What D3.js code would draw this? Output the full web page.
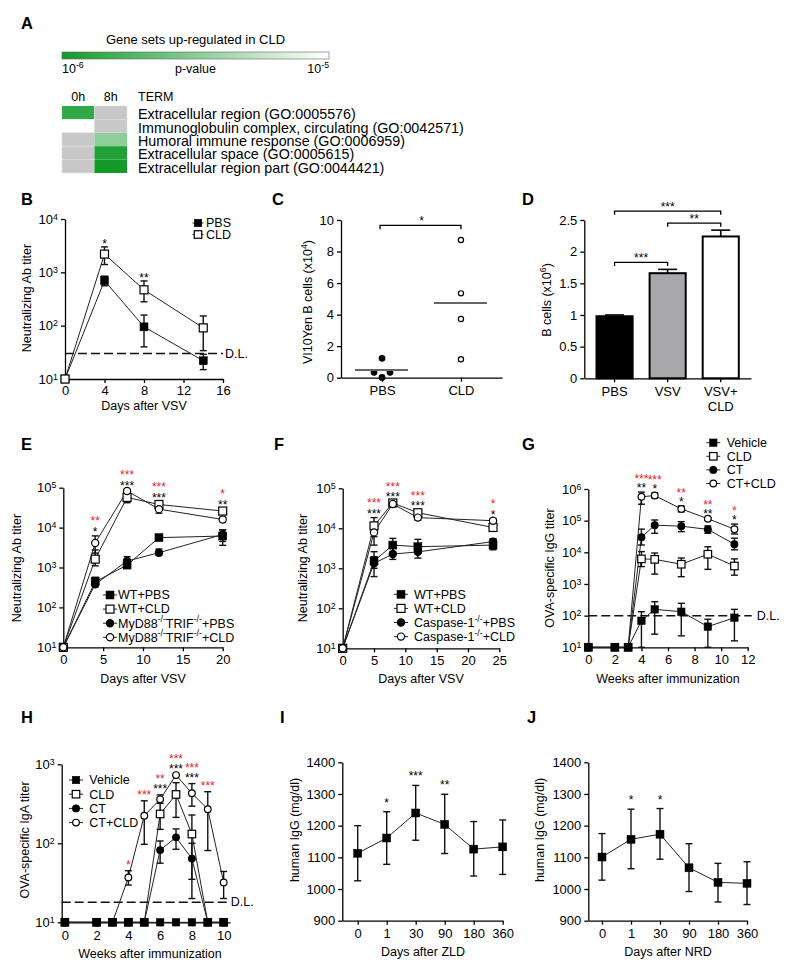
<!DOCTYPE html>
<html><head><meta charset="utf-8">
<script src="https://cdn.jsdelivr.net/npm/d3@7"></script>
<style>
body{margin:0;background:#fff;}
svg{display:block;font-family:"Liberation Sans",Arial,Helvetica,sans-serif;}
</style></head><body>
<svg id="fig" width="800" height="976"></svg>
<script>
// ================= DATA =================
// Panel A
const goTerms = ["Extracellular region (GO:0005576)", "Immunoglobulin complex, circulating (GO:0042571)", "Humoral immune response (GO:0006959)", "Extracellular space (GO:0005615)", "Extracellular region part (GO:0044421)"];
const goTimes = ["0h", "8h"];
const goP0h = [1.35e-6, 1e-5, null, null, null];
const goP8h = [null, null, 3.3e-6, 1.15e-6, 1.0e-6];
const pRange = [1e-6, 1e-5];

// Panel B
const bDays = [0, 4, 8, 14];
const bPBS = [10, 700, 95, 22], bPBSLo = [10, 560, 40, 15], bPBSHi = [10, 850, 158, 29];
const bCLD = [10, 2200, 470, 91], bCLDLo = [10, 1400, 280, 34], bCLDHi = [10, 3000, 690, 152];
const bDL = 30;
const bSig = ["", "*", "**", ""];

// Panel C
const cGroups = ["PBS", "CLD"];
const cPBS = [1.23, 0.34, 0.34, 0.02];
const cCLD = [8.73, 5.35, 3.72, 1.17];

// Panel D
const dGroups = ["PBS", "VSV", "VSV+CLD"];
const dVals = [0.98, 1.66, 2.24];
const dErr = [0.02, 0.06, 0.10];
const dComparisons = [["PBS", "VSV", "***", 0], ["VSV", "VSV+CLD", "**", 0], ["PBS", "VSV+CLD", "***", 1]];

// Panel E
const eDays = [0, 4, 8, 12, 20];
const eWTPBS = [10, 440, 1150, 5600, 6150], eWTPBSLo = [10, 360, 980, 5200, 3600], eWTPBSHi = [10, 570, 1450, 6000, 8700];
const eWTCLD = [10, 1620, 57000, 38000, 26000], eWTCLDLo = [10, 1100, 42000, 32000, 22000], eWTCLDHi = [10, 2750, 72000, 45000, 30000];
const eKOPBS = [10, 380, 1450, 2350, 6700], eKOPBSLo = [10, 330, 1100, 2000, 4500], eKOPBSHi = [10, 440, 1870, 2900, 8800];
const eKOCLD = [10, 4100, 83000, 29000, 16000], eKOCLDLo = [10, 2300, 76000, 23000, 14000], eKOCLDHi = [10, 6200, 90000, 38000, 18000];
const eSigDays = [4, 8, 12, 20];
const eSigRed = ["**", "***", "***", "*"];
const eSigBlack = ["*", "***", "***", "**"];

// Panel F
const fDays = [0, 5, 8, 12, 24];
const fWTPBS = [10, 1520, 3800, 3470, 3800], fWTPBSLo = [10, 1000, 2600, 2360, 2900], fWTPBSHi = [10, 2600, 5600, 5300, 5300];
const fWTCLD = [10, 11500, 43000, 24500, 10500], fWTCLDLo = [10, 6200, 38000, 21000, 9000], fWTCLDHi = [10, 18500, 48000, 28000, 12000];
const fKOPBS = [10, 1330, 2270, 2570, 4650], fKOPBSLo = [10, 620, 1670, 1800, 4000], fKOPBSHi = [10, 1950, 3200, 3700, 5500];
const fKOCLD = [10, 7900, 40500, 18500, 15500], fKOCLDLo = [10, 3800, 36000, 16000, 13500], fKOCLDHi = [10, 12600, 45000, 21000, 17500];
const fSigDays = [5, 8, 12, 24];
const fSigRed = ["***", "***", "***", "*"];
const fSigBlack = ["***", "***", "***", "*"];

// Panel G
const gWeeks = [0, 2, 3, 4, 5, 7, 9, 11];
const gVeh = [10, 10, 10, 69, 158, 133, 45, 86], gVehLo = [10, 10, 10, 10, 26, 23, 10, 16], gVehHi = [10, 10, 10, 133, 275, 245, 77, 158];
const gCLD = [10, 10, 10, 6200, 6000, 4200, 8700, 3700], gCLDLo = [10, 10, 10, 3550, 2050, 1700, 2900, 1900], gCLDHi = [10, 10, 10, 10500, 9500, 6600, 15000, 6200];
const gCT = [10, 10, 10, 30000, 72000, 67000, 53000, 18000], gCTLo = [10, 10, 10, 17000, 40000, 45000, 40000, 12000], gCTHi = [10, 10, 10, 54000, 105000, 93000, 68000, 28000];
const gCTCLD = [10, 10, 10, 570000, 620000, 235000, 115000, 54000], gCTCLDLo = [10, 10, 10, 330000, 520000, 190000, 105000, 38000], gCTCLDHi = [10, 10, 10, 800000, 740000, 290000, 125000, 78000];
const gDL = 100;
const gSigWeeks = [4, 5, 7, 9, 11];
const gSigRed = ["***", "***", "**", "**", "*"];
const gSigBlack = ["**", "*", "*", "**", "*"];

// Panel H
const hWeeks = [0, 2, 3, 4, 5, 6, 7, 8, 9, 10];
const hVeh = [10, 10, 10, 10, 10, 10, 10, 10, 10, 10];
const hCLD = [10, 10, 10, 10, 10, 235, 415, 131, 10, 10], hCLDLo = [10, 10, 10, 10, 10, 150, 213, 35, 10, 10], hCLDHi = [10, 10, 10, 10, 10, 355, 585, 228, 10, 10];
const hCT = [10, 10, 10, 10, 10, 82, 119, 64, 10, 10], hCTLo = [10, 10, 10, 10, 10, 56, 84, 20, 10, 10], hCTHi = [10, 10, 10, 10, 10, 107, 152, 100, 10, 10];
const hCTCLD = [10, 10, 10, 37, 224, 360, 730, 430, 270, 32], hCTCLDLo = [10, 10, 10, 29.6, 97, 320, 730, 295, 81, 20], hCTCLDHi = [10, 10, 10, 45, 345, 410, 730, 570, 450, 44];
const hDL = 18;
const hSigWeeks = [4, 5, 6, 7, 8, 9];
const hSigRed = ["*", "***", "**", "***", "***", "***"];
const hSigBlack = ["", "", "***", "***", "***", ""];

// Panels I & J
const ijDays = ["0", "1", "30", "90", "180", "360"];
const iVals = [1113, 1161, 1240, 1204, 1126, 1133], iLo = [1026, 1078, 1154, 1112, 1041, 1046], iHi = [1200, 1244, 1327, 1299, 1213, 1218];
const iSig = ["", "*", "***", "**", "", ""];
const jVals = [1101, 1157, 1173, 1067, 1021, 1018], jLo = [1028, 1064, 1094, 992, 959, 951], jHi = [1175, 1252, 1254, 1143, 1081, 1086];
const jSig = ["", "*", "*", "", "", ""];

// ================= HELPERS =================
const svg = d3.select("#fig");
const RED = "#e3262b";
const GREEN = "#139b2a";
const TICKFS = 13;

function rich(t, s, fs) {
  const re = /\^\{([^}]*)\}/g;
  let last = 0, m, shift = 0;
  while ((m = re.exec(s)) !== null) {
    if (m.index > last) {
      const ts = t.append("tspan").text(s.slice(last, m.index));
      if (shift) { ts.attr("dy", shift); shift = 0; }
    }
    t.append("tspan").attr("font-size", fs * 0.7).attr("dy", -fs * 0.42).text(m[1]);
    shift = fs * 0.42;
    last = re.lastIndex;
  }
  if (last < s.length) {
    const ts = t.append("tspan").text(s.slice(last));
    if (shift) ts.attr("dy", shift);
  }
}
function txt(x, y, s, o = {}) {
  const fs = o.size || 12;
  const t = svg.append("text").attr("x", x).attr("y", y).attr("font-size", fs)
    .attr("text-anchor", o.anchor || "start").attr("fill", o.fill || "#000");
  if (o.weight) t.attr("font-weight", o.weight);
  rich(t, s, fs);
  return t;
}
function ytitle(x, yc, s, fs = 12.5) {
  const t = svg.append("text").attr("transform", `translate(${x},${yc}) rotate(-90)`)
    .attr("text-anchor", "middle").attr("dy", "0.35em").attr("font-size", fs).attr("fill", "#000");
  rich(t, s, fs);
}
function drawAxis(gen, tx, ty) {
  const g = svg.append("g").attr("transform", `translate(${tx},${ty})`).call(gen);
  g.attr("font-family", null).attr("font-size", TICKFS);
  g.selectAll("path.domain").attr("stroke", "#000").attr("stroke-width", 1.3);
  g.selectAll(".tick line").attr("stroke", "#000").attr("stroke-width", 1.3);
  g.selectAll(".tick text").attr("fill", "#000");
  return g;
}
function supTicks(g) {
  g.selectAll(".tick text").each(function (d) {
    const e = Math.round(Math.log10(d));
    const t = d3.select(this); t.text("10");
    t.append("tspan").attr("dy", "-0.45em").attr("font-size", "0.68em").text(e);
  });
  return g;
}
function marker(type, x, y, size = 8) {
  if (type === "sq" || type === "osq") {
    svg.append("rect").attr("x", x - size / 2).attr("y", y - size / 2).attr("width", size).attr("height", size)
      .attr("fill", type === "sq" ? "#000" : "#fff").attr("stroke", "#000").attr("stroke-width", type === "sq" ? 0.5 : 1.2);
  } else {
    svg.append("circle").attr("cx", x).attr("cy", y).attr("r", size / 2 - 0.4)
      .attr("fill", type === "ci" ? "#000" : "#fff").attr("stroke", "#000").attr("stroke-width", 1.2);
  }
}
function plotSeries(xs, ys, series, msize = 8, drawOrder = null) {
  const line = d3.line().x(d => xs(d.x)).y(d => ys(d.y));
  series.forEach(s => {
    s.pts = s.x.map((x, i) => ({ x, y: s.y[i], lo: s.lo ? s.lo[i] : s.y[i], hi: s.hi ? s.hi[i] : s.y[i] }));
    svg.append("path").datum(s.pts).attr("d", line).attr("fill", "none").attr("stroke", "#222").attr("stroke-width", 1);
  });
  series.forEach(s => {
    s.pts.forEach(p => {
      if (p.hi - p.lo <= 0) return;
      const x = xs(p.x), y1 = ys(p.lo), y2 = ys(p.hi);
      svg.append("line").attr("x1", x).attr("x2", x).attr("y1", y1).attr("y2", y2).attr("stroke", "#111").attr("stroke-width", 1.4);
      [y1, y2].forEach(yy => svg.append("line").attr("x1", x - 3.5).attr("x2", x + 3.5).attr("y1", yy).attr("y2", yy).attr("stroke", "#111").attr("stroke-width", 1.4));
    });
  });
  (drawOrder || series).forEach(s => s.pts.forEach(p => marker(s.type, xs(p.x), ys(p.y), msize)));
}
function legend(items, mx, y0, dy, tx, msize = 8, half = 7, fs = 12) {
  items.forEach((it, i) => {
    const y = y0 + i * dy;
    svg.append("line").attr("x1", mx - half).attr("x2", mx + half).attr("y1", y).attr("y2", y).attr("stroke", "#222").attr("stroke-width", 1);
    marker(it.type, mx, y, msize);
    txt(tx, y + 4.3, it.label, { size: fs });
  });
}
function sigStars(xs, ys, series, xsList, black, red, off = 0, gap = 10.5) {
  xsList.forEach((xv, i) => {
    let maxHi = -Infinity;
    series.forEach(s => s.pts.forEach(p => { if (p.x === xv) maxHi = Math.max(maxHi, p.hi, p.y); }));
    let base = ys(maxHi) - off;
    if (black[i]) {
      svg.append("text").attr("x", xs(xv)).attr("y", base).attr("text-anchor", "middle").attr("font-size", 12).attr("fill", "#000").text(black[i]);
      base -= gap;
    }
    if (red[i]) svg.append("text").attr("x", xs(xv)).attr("y", base).attr("text-anchor", "middle").attr("font-size", 12).attr("fill", RED).text(red[i]);
  });
}
function dlLine(x1, x2, y, lx) {
  svg.append("line").attr("x1", x1).attr("x2", x2).attr("y1", y).attr("y2", y)
    .attr("stroke", "#111").attr("stroke-width", 1.5).attr("stroke-dasharray", "9,4");
  txt(lx, y + 4.3, "D.L.", { size: 12.5 });
}
function panelLetter(x, y, s) { txt(x, y, s, { size: 16.5, weight: "bold" }); }

// ================= PANEL A =================
panelLetter(21, 28.5, "A");
txt(195.5, 44, "Gene sets up-regulated in CLD", { size: 13, anchor: "middle" });
const pColor = d3.scaleLog().domain(pRange).range([GREEN, "#ffffff"]).interpolate(d3.interpolateRgb);
const cbX = d3.scaleLog().domain(pRange).range([62, 329]);
const grad = svg.append("defs").append("linearGradient").attr("id", "cbgrad");
d3.range(0, 11).forEach(k => {
  const p = Math.pow(10, -6 + k / 10);
  grad.append("stop").attr("offset", k / 10).attr("stop-color", pColor(p));
});
svg.append("rect").attr("x", cbX(pRange[0])).attr("y", 52).attr("width", cbX(pRange[1]) - cbX(pRange[0])).attr("height", 7)
  .attr("fill", "url(#cbgrad)").attr("stroke", "#666").attr("stroke-width", 0.6);
txt(cbX(pRange[0]), 73, "10^{-6}", { size: 12.5 });
txt(195.5, 73, "p-value", { size: 12.5, anchor: "middle" });
txt(cbX(pRange[1]), 73, "10^{-5}", { size: 12.5, anchor: "end" });

const hmX = d3.scaleBand().domain(goTimes).range([62, 127]);
const hmY = d3.scaleBand().domain(goTerms).range([106, 173]);
goTimes.forEach(t => txt(hmX(t) + hmX.bandwidth() / 2, 101, t, { size: 12.5, anchor: "middle" }));
txt(138, 101, "TERM", { size: 12.5 });
const goVals = [goP0h, goP8h];
goTerms.forEach((term, i) => {
  goTimes.forEach((t, ti) => {
    const p = goVals[ti][i];
    svg.append("rect").attr("x", hmX(t)).attr("y", hmY(term)).attr("width", hmX.bandwidth()).attr("height", hmY.bandwidth())
      .attr("fill", p == null ? "#c8c8c8" : pColor(p)).attr("stroke", p == null ? "#dedede" : "none").attr("stroke-width", 0.7);
  });
  txt(138, hmY(term) + hmY.bandwidth() / 2 + 6.5, term, { size: 14.3 });
});

// ================= PANEL B =================
panelLetter(21, 205, "B");
const bX = d3.scaleLinear().domain([0, 16]).range([65, 223]);
const bY = d3.scaleLog().domain([10, 1e4]).range([379, 219]);
drawAxis(d3.axisBottom(bX).tickValues([0, 4, 8, 12, 16]).tickSize(4).tickPadding(3).tickSizeOuter(0), 0, 379);
supTicks(drawAxis(d3.axisLeft(bY).tickValues([10, 100, 1000, 1e4]).tickSize(4).tickPadding(3).tickSizeOuter(0), 65, 0));
ytitle(27, 298, "Neutralizing Ab titer");
txt((bX.range()[0] + bX.range()[1]) / 2, 410, "Days after VSV", { size: 12.5, anchor: "middle" });
dlLine(bX(0), bX(16), bY(bDL), bX(16) + 2);
const bSeries = [
  { x: bDays, y: bPBS, lo: bPBSLo, hi: bPBSHi, type: "sq" },
  { x: bDays, y: bCLD, lo: bCLDLo, hi: bCLDHi, type: "osq" }];
plotSeries(bX, bY, bSeries, 8);
sigStars(bX, bY, bSeries, bDays, bSig, bDays.map(() => ""), -1);
legend([{ label: "PBS", type: "sq" }, { label: "CLD", type: "osq" }], 198, 223, 11.5, 206, 7.5, 5.5, 12.5);

// ================= PANEL C =================
panelLetter(272, 205, "C");
const cX = d3.scalePoint().domain(cGroups).range([341, 502]).padding(0.52);
const cY = d3.scaleLinear().domain([0, 10]).range([377.7, 220]);
drawAxis(d3.axisBottom(cX).tickSize(4).tickPadding(4).tickSizeOuter(0), 0, 377.7);
drawAxis(d3.axisLeft(cY).tickValues([0, 2, 4, 6, 8, 10]).tickSize(4).tickPadding(3).tickSizeOuter(0), 341, 0);
ytitle(308, 302, "VI10Yen B cells (x10^{4})");
[[cPBS, "PBS", "ci"], [cCLD, "CLD", "oci"]].forEach(([vals, grp, type]) => {
  const cx = cX(grp);
  // simple beeswarm: spread overlapping points sideways
  const placed = [];
  vals.slice().sort((a, b) => a - b).forEach(v => {
    const y = cY(v);
    const cands = [0, -8, 8, -16, 16];
    let dx = 0;
    for (const c of cands) { if (placed.every(p => Math.hypot(p[0] - c, p[1] - y) >= 7)) { dx = c; break; } }
    placed.push([dx, y]);
    marker(type, cx + dx, y, type === "ci" ? 6.4 : 6);
  });
  const m = d3.mean(vals);
  svg.append("line").attr("x1", cx - 27).attr("x2", cx + 26).attr("y1", cY(m)).attr("y2", cY(m)).attr("stroke", "#666").attr("stroke-width", 2);
});
{
  const yb = cY(10) + 5.3;
  svg.append("path").attr("d", `M${cX("PBS") - 2},${yb + 4}V${yb}H${cX("CLD")}V${yb + 4}`).attr("fill", "none").attr("stroke", "#000").attr("stroke-width", 1.3);
  svg.append("text").attr("x", (cX("PBS") + cX("CLD")) / 2).attr("y", yb - 0.5).attr("text-anchor", "middle").attr("font-size", 12).text("*");
}

// ================= PANEL D =================
panelLetter(522, 205, "D");
const dX = d3.scaleBand().domain(dGroups).range([584.3, 751]).paddingInner(0.32).paddingOuter(0.23);
const dY = d3.scaleLinear().domain([0, 2.5]).range([378.3, 220]);
const dxg = drawAxis(d3.axisBottom(dX).tickSize(4).tickPadding(4).tickSizeOuter(0), 0, 378.3);
dxg.selectAll(".tick text").each(function (d) {
  const t = d3.select(this);
  const parts = d.split("+");
  if (parts.length > 1 && parts[1]) {
    t.text(null);
    t.append("tspan").attr("x", 0).text(parts[0] + "+");
    t.append("tspan").attr("x", 0).attr("dy", 15).text(parts[1]);
  }
});
drawAxis(d3.axisLeft(dY).tickValues([0, 0.5, 1, 1.5, 2, 2.5]).tickFormat(d => String(d)).tickSize(4).tickPadding(3).tickSizeOuter(0), 584.3, 0);
ytitle(547, 300, "B cells (x10^{6})");
const dFill = ["#000000", "#a8a8aa", "#ffffff"];
dGroups.forEach((g, i) => {
  const x = dX(g), w = dX.bandwidth(), cx = x + w / 2;
  svg.append("line").attr("x1", cx).attr("x2", cx).attr("y1", dY(dVals[i])).attr("y2", dY(dVals[i] + dErr[i])).attr("stroke", "#000").attr("stroke-width", 1.6);
  svg.append("line").attr("x1", cx - 9.5).attr("x2", cx + 9.5).attr("y1", dY(dVals[i] + dErr[i])).attr("y2", dY(dVals[i] + dErr[i])).attr("stroke", "#000").attr("stroke-width", 1.6);
  svg.append("rect").attr("x", x).attr("y", dY(dVals[i])).attr("width", w).attr("height", dY(0) - dY(dVals[i]))
    .attr("fill", dFill[i]).attr("stroke", "#000").attr("stroke-width", 2);
});
dComparisons.forEach(([a, b, s, level]) => {
  const ia = dGroups.indexOf(a), ib = dGroups.indexOf(b);
  let top = 0;
  for (let k = ia; k <= ib; k++) top = Math.max(top, dVals[k] + dErr[k]);
  const y = dY(top) - 7 - level * 12;
  const x1 = dX(a) + dX.bandwidth() / 2, x2 = dX(b) + dX.bandwidth() / 2;
  svg.append("path").attr("d", `M${x1},${y + 3.5}V${y}H${x2}V${y + 3.5}`).attr("fill", "none").attr("stroke", "#000").attr("stroke-width", 1.3);
  svg.append("text").attr("x", (x1 + x2) / 2).attr("y", y - 0.5).attr("text-anchor", "middle").attr("font-size", 12).text(s);
});

// ================= PANEL E =================
panelLetter(21, 450, "E");
const eX = d3.scaleLinear().domain([0, 20]).range([63.3, 222.7]);
const eY = d3.scaleLog().domain([10, 1e5]).range([647.3, 487.7]);
drawAxis(d3.axisBottom(eX).tickValues([0, 5, 10, 15, 20]).tickSize(4).tickPadding(3).tickSizeOuter(0), 0, 647.3);
supTicks(drawAxis(d3.axisLeft(eY).tickValues([10, 100, 1000, 1e4, 1e5]).tickSize(4).tickPadding(3).tickSizeOuter(0), 63.3, 0));
ytitle(17, 568, "Neutralizing Ab titer");
txt(143, 683, "Days after VSV", { size: 12.5, anchor: "middle" });
const eSeries = [
  { x: eDays, y: eWTPBS, lo: eWTPBSLo, hi: eWTPBSHi, type: "sq", label: "WT+PBS" },
  { x: eDays, y: eWTCLD, lo: eWTCLDLo, hi: eWTCLDHi, type: "osq", label: "WT+CLD" },
  { x: eDays, y: eKOPBS, lo: eKOPBSLo, hi: eKOPBSHi, type: "ci", label: "MyD88^{-/-}TRIF^{-/-}+PBS" },
  { x: eDays, y: eKOCLD, lo: eKOCLDLo, hi: eKOCLDHi, type: "oci", label: "MyD88^{-/-}TRIF^{-/-}+CLD" }];
plotSeries(eX, eY, eSeries, 8);
sigStars(eX, eY, eSeries, eSigDays, eSigBlack, eSigRed, 0);
legend(eSeries, 110, 595, 14.1, 118, 8, 7, 12.5);

// ================= PANEL F =================
panelLetter(274, 450, "F");
const fX = d3.scaleLinear().domain([0, 25]).range([342.7, 499.3]);
const fY = d3.scaleLog().domain([10, 1e5]).range([648.3, 488.3]);
drawAxis(d3.axisBottom(fX).tickValues([0, 5, 10, 15, 20, 25]).tickSize(4).tickPadding(3).tickSizeOuter(0), 0, 648.3);
supTicks(drawAxis(d3.axisLeft(fY).tickValues([10, 100, 1000, 1e4, 1e5]).tickSize(4).tickPadding(3).tickSizeOuter(0), 342.7, 0));
ytitle(303, 568, "Neutralizing Ab titer");
txt(421, 683, "Days after VSV", { size: 12.5, anchor: "middle" });
const fSeries = [
  { x: fDays, y: fWTPBS, lo: fWTPBSLo, hi: fWTPBSHi, type: "sq", label: "WT+PBS" },
  { x: fDays, y: fWTCLD, lo: fWTCLDLo, hi: fWTCLDHi, type: "osq", label: "WT+CLD" },
  { x: fDays, y: fKOPBS, lo: fKOPBSLo, hi: fKOPBSHi, type: "ci", label: "Caspase-1^{-/-}+PBS" },
  { x: fDays, y: fKOCLD, lo: fKOCLDLo, hi: fKOCLDHi, type: "oci", label: "Caspase-1^{-/-}+CLD" }];
plotSeries(fX, fY, fSeries, 8);
sigStars(fX, fY, fSeries, fSigDays, fSigBlack, fSigRed, 0);
legend(fSeries, 401, 594.3, 14.1, 414, 8, 7, 12.5);

// ================= PANEL G =================
panelLetter(522, 450, "G");
const gX = d3.scaleLinear().domain([0, 12]).range([588.3, 747.7]);
const gY = d3.scaleLog().domain([10, 1e6]).range([647.3, 489]);
drawAxis(d3.axisBottom(gX).tickValues([0, 2, 4, 6, 8, 10, 12]).tickSize(4).tickPadding(3).tickSizeOuter(0), 0, 647.3);
supTicks(drawAxis(d3.axisLeft(gY).tickValues([10, 100, 1000, 1e4, 1e5, 1e6]).tickSize(4).tickPadding(3).tickSizeOuter(0), 588.3, 0));
ytitle(550, 568, "OVA-specific IgG titer");
txt(668, 683, "Weeks after immunization", { size: 12.5, anchor: "middle" });
dlLine(gX(0), gX(12) + 4, gY(gDL), gX(12) + 9);
const gSeries = [
  { x: gWeeks, y: gVeh, lo: gVehLo, hi: gVehHi, type: "sq", label: "Vehicle" },
  { x: gWeeks, y: gCLD, lo: gCLDLo, hi: gCLDHi, type: "osq", label: "CLD" },
  { x: gWeeks, y: gCT, lo: gCTLo, hi: gCTHi, type: "ci", label: "CT" },
  { x: gWeeks, y: gCTCLD, lo: gCTCLDLo, hi: gCTCLDHi, type: "oci", label: "CT+CLD" }];
plotSeries(gX, gY, gSeries, 7.5, gSeries.slice().reverse());
sigStars(gX, gY, gSeries, gSigWeeks, gSigBlack, gSigRed, 0, 9);
legend(gSeries, 713.3, 442.7, 13.6, 726.7, 7.5, 7, 12.5);

// ================= PANEL H =================
panelLetter(21, 723, "H");
const hX = d3.scaleLinear().domain([-0.2, 10.4]).range([61.7, 230]);
const hY = d3.scaleLog().domain([10, 1000]).range([922.3, 764.3]);
drawAxis(d3.axisBottom(hX).tickValues([0, 2, 4, 6, 8, 10]).tickSize(4).tickPadding(4).tickSizeOuter(0), 0, 922.3);
supTicks(drawAxis(d3.axisLeft(hY).tickValues([10, 100, 1000]).tickSize(4).tickPadding(3).tickSizeOuter(0), 61.7, 0));
ytitle(25, 840, "OVA-specific IgA titer");
txt(150, 958, "Weeks after immunization", { size: 12.5, anchor: "middle" });
dlLine(hX(-0.2), hX(10.2), hY(hDL), hX(10.2) + 4);
const hSeries = [
  { x: hWeeks, y: hVeh, type: "sq", label: "Vehicle" },
  { x: hWeeks, y: hCLD, lo: hCLDLo, hi: hCLDHi, type: "osq", label: "CLD" },
  { x: hWeeks, y: hCT, lo: hCTLo, hi: hCTHi, type: "ci", label: "CT" },
  { x: hWeeks, y: hCTCLD, lo: hCTCLDLo, hi: hCTCLDHi, type: "oci", label: "CT+CLD" }];
plotSeries(hX, hY, hSeries, 7.5, hSeries.slice().reverse());
sigStars(hX, hY, hSeries, hSigWeeks, hSigBlack, hSigRed, 2, 10);
legend(hSeries, 76, 780, 14.2, 89.3, 7.5, 7, 12.5);

// ================= PANELS I & J =================
function ijPanel(letterX, axisX, lastX, titleX, letter, vals, lo, hi, sig, xlabel, ytX) {
  panelLetter(letterX, 723, letter);
  const step = 29;
  const x = d3.scaleLinear().domain([-(lastX - axisX - 5 * step) / step, 5]).range([axisX, lastX]);
  const y = d3.scaleLinear().domain([900, 1400]).range([920.7, 762.3]);
  drawAxis(d3.axisBottom(x).tickValues(d3.range(ijDays.length)).tickFormat(i => ijDays[i]).tickSize(4).tickPadding(4).tickSizeOuter(0), 0, 920.7);
  drawAxis(d3.axisLeft(y).tickValues(d3.range(900, 1401, 100)).tickFormat(d3.format("d")).tickSize(4).tickPadding(3).tickSizeOuter(0), axisX, 0);
  ytitle(ytX, 830, "human IgG (mg/dl)");
  txt(titleX, 956, xlabel, { size: 12.5, anchor: "middle" });
  const idx = d3.range(vals.length);
  const s = [{ x: idx, y: vals, lo, hi, type: "sq" }];
  plotSeries(x, y, s, 8);
  sigStars(x, y, s, idx, sig, idx.map(() => ""), 5);
}
ijPanel(280, 342.3, 502.7, 423, "I", iVals, iLo, iHi, iSig, "Days after ZLD", 295);
ijPanel(527, 588.3, 747, 668, "J", jVals, jLo, jHi, jSig, "Days after NRD", 540);
</script></body></html>
